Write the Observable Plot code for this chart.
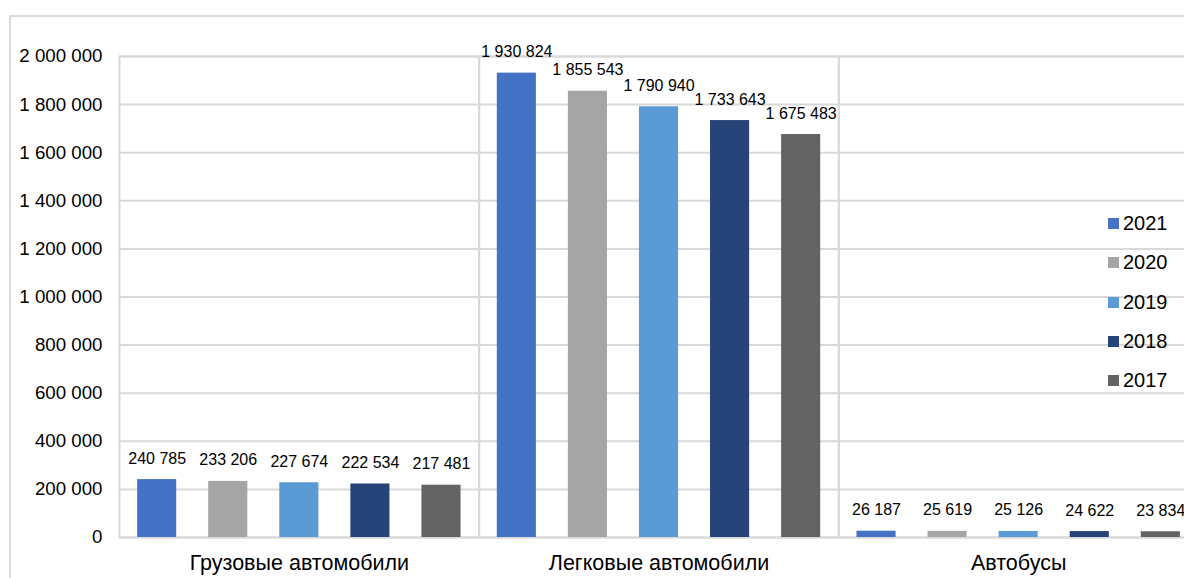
<!DOCTYPE html>
<html><head><meta charset="utf-8">
<script src="https://cdn.jsdelivr.net/npm/d3@7"></script>
<script src="https://cdn.jsdelivr.net/npm/@observablehq/plot@0.6"></script>
<style>
body{margin:0;background:#fff;overflow:hidden;font-family:"Liberation Sans",Arial,sans-serif;}
#chart{position:absolute;left:0;top:0;}
#chart svg{max-width:none;overflow:hidden;}
#border{position:absolute;left:9px;top:15px;width:1400px;height:800px;border:2px solid #d9d9d9;pointer-events:none;}
#legend{position:absolute;left:1108px;top:204px;font-size:20px;color:#000;}
#legend .item{height:39.3px;display:flex;align-items:center;}
#legend .sw{width:11px;height:11px;margin-right:4px;}
</style></head>
<body>
<div id="chart"></div>
<div id="border"></div>
<div id="legend"></div>
<script>
const categories = ["Грузовые автомобили", "Легковые автомобили", "Автобусы"];
const years = ["2021", "2020", "2019", "2018", "2017"];
const trucks = [240785, 233206, 227674, 222534, 217481];
const cars = [1930824, 1855543, 1790940, 1733643, 1675483];
const buses = [26187, 25619, 25126, 24622, 23834];
const colors = ["#4472C4", "#A5A5A5", "#5B9BD5", "#264478", "#636363"];
const yTicks = [0, 200000, 400000, 600000, 800000, 1000000, 1200000, 1400000, 1600000, 1800000, 2000000];

const series = [trucks, cars, buses];
const data = [];
categories.forEach((c, i) => years.forEach((yr, j) => data.push({category: c, year: yr, value: series[i][j]})));

const fmt = v => d3.format(",")(v).replace(/,/g, " ");

const chart = Plot.plot({
  width: 1184, height: 578,
  marginLeft: 119, marginRight: 0, marginTop: 56, marginBottom: 41,
  style: {fontFamily: "'Liberation Sans', Arial, sans-serif", color: "#000", background: "transparent"},
  fx: {domain: categories, range: [119, 1198], padding: 0, round: false, label: null, axis: null},
  x: {domain: years, paddingInner: 0.45, paddingOuter: 0.255, round: false, axis: null},
  y: {domain: [0, 2000000], axis: null},
  color: {domain: years, range: colors},
  marks: [
    Plot.ruleY(yTicks, {stroke: "#d9d9d9", strokeWidth: 2}),
    Plot.frame({stroke: "#d9d9d9", strokeWidth: 2}),
    Plot.barY(data, {fx: "category", x: "year", y: "value", fill: "year"}),
    Plot.text(data, {fx: "category", x: "year", y: "value", text: d => fmt(d.value), lineAnchor: "bottom", dy: -16, fontSize: 16, fill: "#000"}),
    Plot.axisY(yTicks, {tickSize: 0, tickPadding: 17, tickFormat: fmt, fontSize: 18.7, label: null, fill: "#000"}),
    Plot.axisFx({anchor: "bottom", tickSize: 0, tickPadding: 17.5, fontSize: 21.5, label: null, fill: "#000"})
  ]
});
document.getElementById("chart").appendChild(chart);

const legend = document.getElementById("legend");
years.forEach((yr, i) => {
  const it = document.createElement("div");
  it.className = "item";
  it.innerHTML = `<span class="sw" style="background:${colors[i]}"></span><span>${yr}</span>`;
  legend.appendChild(it);
});
</script>
</body></html>
